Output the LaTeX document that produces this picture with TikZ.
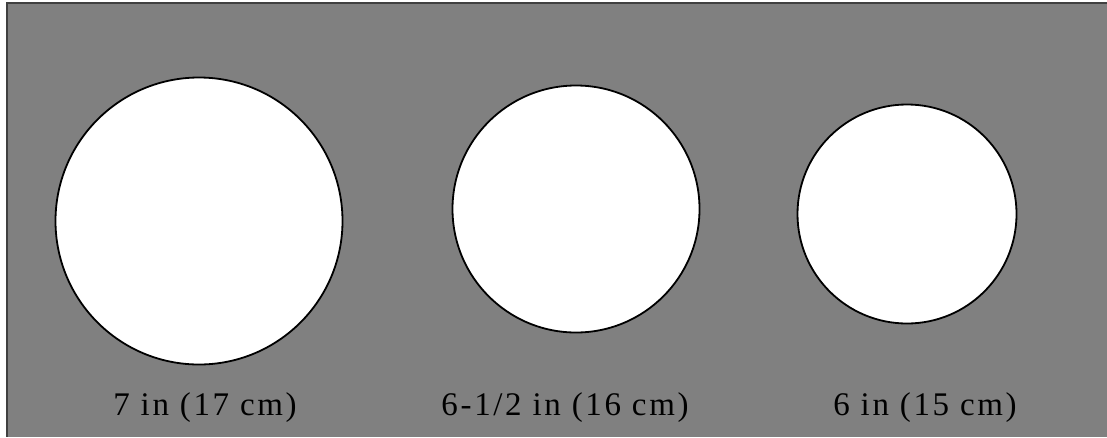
\documentclass[tikz,border=0pt]{standalone}
\usepackage{fontspec}
\setmainfont[LetterSpace=8]{Liberation Serif}
\usepackage{tikz}
\usetikzlibrary{positioning}

\begin{document}
\begin{tikzpicture}[x=1pt, y=-1pt]
    \useasboundingbox (0,0) rectangle (1107,437);
    % 1. Nền xám và viền
    \fill[gray] (7,3) rectangle (1107,437);
    \draw[line width=2pt, black!75] (1107,3) -- (7,3) -- (7,437);

    % 2. Các hình tròn và nhãn
    \foreach \i/\cx/\cy/\r/\lx/\txt in {1/199/221/143.5/205/{7 in (17 cm)},
                                        2/576/209/123.5/565/{6-1/2 in (16 cm)},
                                        3/907/214/109.5/925/{6 in (15 cm)}} {
        \node[circle, draw, fill=white, line width=1.8pt, inner sep=0pt,
              minimum size=2*\r pt] (c\i) at (\cx,\cy) {};
        \node[anchor=base, inner sep=0pt, font=\fontsize{33}{36}\selectfont]
            (l\i) at (\lx,415) {\txt};
    }
\end{tikzpicture}
\end{document}
